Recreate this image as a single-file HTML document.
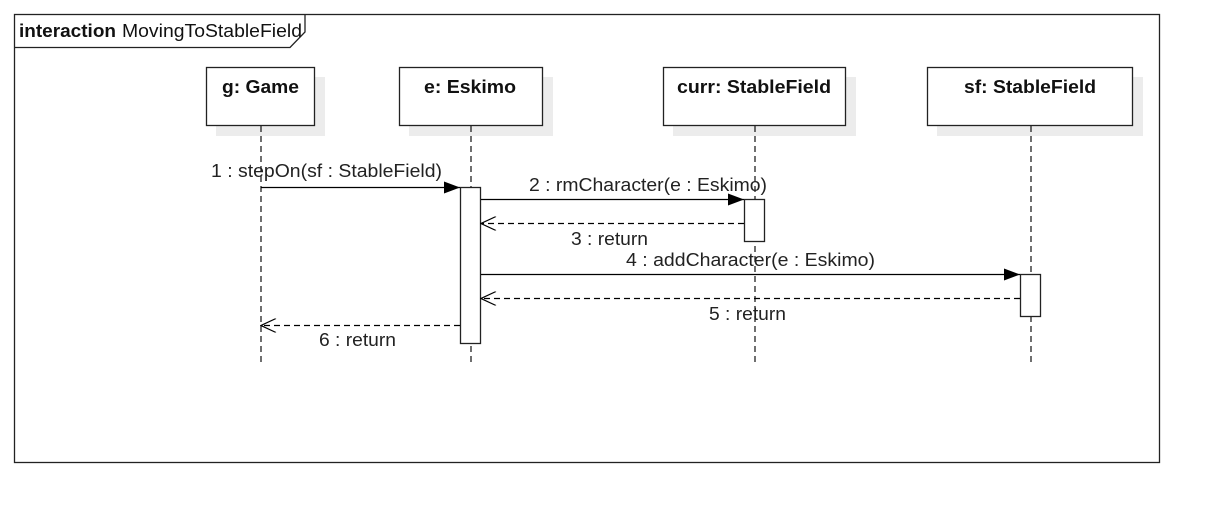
<!DOCTYPE html>
<html><head><meta charset="utf-8"><style>
html,body{margin:0;padding:0;background:#fff;}
svg{display:block;font-family:"Liberation Sans",Arial,sans-serif;}
</style></head><body>
<svg width="1219" height="523" viewBox="0 0 1219 523" xmlns="http://www.w3.org/2000/svg">
<defs>
<marker id="fill" markerWidth="16" markerHeight="12" refX="16" refY="6" orient="auto" markerUnits="userSpaceOnUse"><path d="M0,0 L16,6 L0,12 z" fill="#000"/></marker>
<marker id="open" markerWidth="17" markerHeight="14" refX="16" refY="7" orient="auto" markerUnits="userSpaceOnUse"><path d="M1,0 L16,7 L1,14" fill="none" stroke="#000" stroke-width="1.2"/></marker>
</defs>
<rect x="14.5" y="14.5" width="1145" height="448" fill="#fff" stroke="#222" stroke-width="1.3"/>
<path d="M14.5,47.5 L290,47.5 L305,32 L305,14.5" fill="none" stroke="#222" stroke-width="1.3"/>
<text x="19" y="37" font-size="18" font-weight="bold" fill="#111" textLength="97" lengthAdjust="spacingAndGlyphs">interaction</text>
<text x="122" y="37" font-size="18" fill="#111" textLength="180" lengthAdjust="spacingAndGlyphs">MovingToStableField</text>
<g fill="#ececec">
<rect x="216" y="77" width="109" height="59"/>
<rect x="409" y="77" width="144" height="59"/>
<rect x="673" y="77" width="183" height="59"/>
<rect x="937" y="77" width="206" height="59"/>
</g>
<g fill="#fff" stroke="#222" stroke-width="1.3">
<rect x="206.5" y="67.5" width="108" height="58"/>
<rect x="399.5" y="67.5" width="143" height="58"/>
<rect x="663.5" y="67.5" width="182" height="58"/>
<rect x="927.5" y="67.5" width="205" height="58"/>
</g>
<g font-size="18" font-weight="bold" fill="#111" lengthAdjust="spacingAndGlyphs">
<text x="222" y="93" textLength="77" lengthAdjust="spacingAndGlyphs">g: Game</text>
<text x="424" y="93" textLength="92" lengthAdjust="spacingAndGlyphs">e: Eskimo</text>
<text x="677" y="93" textLength="154" lengthAdjust="spacingAndGlyphs">curr: StableField</text>
<text x="964" y="93" textLength="132" lengthAdjust="spacingAndGlyphs">sf: StableField</text>
</g>
<g stroke="#222" stroke-width="1.3" stroke-dasharray="6,4">
<line x1="261" y1="126" x2="261" y2="366"/>
<line x1="471" y1="126" x2="471" y2="366"/>
<line x1="755" y1="126" x2="755" y2="366"/>
<line x1="1031" y1="126" x2="1031" y2="366"/>
</g>
<g fill="#fff" stroke="#222" stroke-width="1.3">
<rect x="460.5" y="187.5" width="20" height="156"/>
<rect x="744.5" y="199.5" width="20" height="42"/>
<rect x="1020.5" y="274.5" width="20" height="42"/>
</g>
<g stroke="#000" stroke-width="1.3" fill="none">
<line x1="261" y1="187.5" x2="460" y2="187.5" marker-end="url(#fill)"/>
<line x1="481" y1="199.5" x2="744" y2="199.5" marker-end="url(#fill)"/>
<line x1="481" y1="274.5" x2="1020" y2="274.5" marker-end="url(#fill)"/>
<line x1="744" y1="223.5" x2="481" y2="223.5" stroke-dasharray="6,4" marker-end="url(#open)"/>
<line x1="1020" y1="298.5" x2="481" y2="298.5" stroke-dasharray="6,4" marker-end="url(#open)"/>
<line x1="460" y1="325.5" x2="261" y2="325.5" stroke-dasharray="6,4" marker-end="url(#open)"/>
</g>
<g font-size="18" fill="#222">
<text x="211" y="177" textLength="231" lengthAdjust="spacingAndGlyphs">1 : stepOn(sf : StableField)</text>
<text x="529" y="191" textLength="238" lengthAdjust="spacingAndGlyphs">2 : rmCharacter(e : Eskimo)</text>
<text x="571" y="245" textLength="77" lengthAdjust="spacingAndGlyphs">3 : return</text>
<text x="626" y="266" textLength="249" lengthAdjust="spacingAndGlyphs">4 : addCharacter(e : Eskimo)</text>
<text x="709" y="320" textLength="77" lengthAdjust="spacingAndGlyphs">5 : return</text>
<text x="319" y="346" textLength="77" lengthAdjust="spacingAndGlyphs">6 : return</text>
</g>
</svg>
</body></html>
